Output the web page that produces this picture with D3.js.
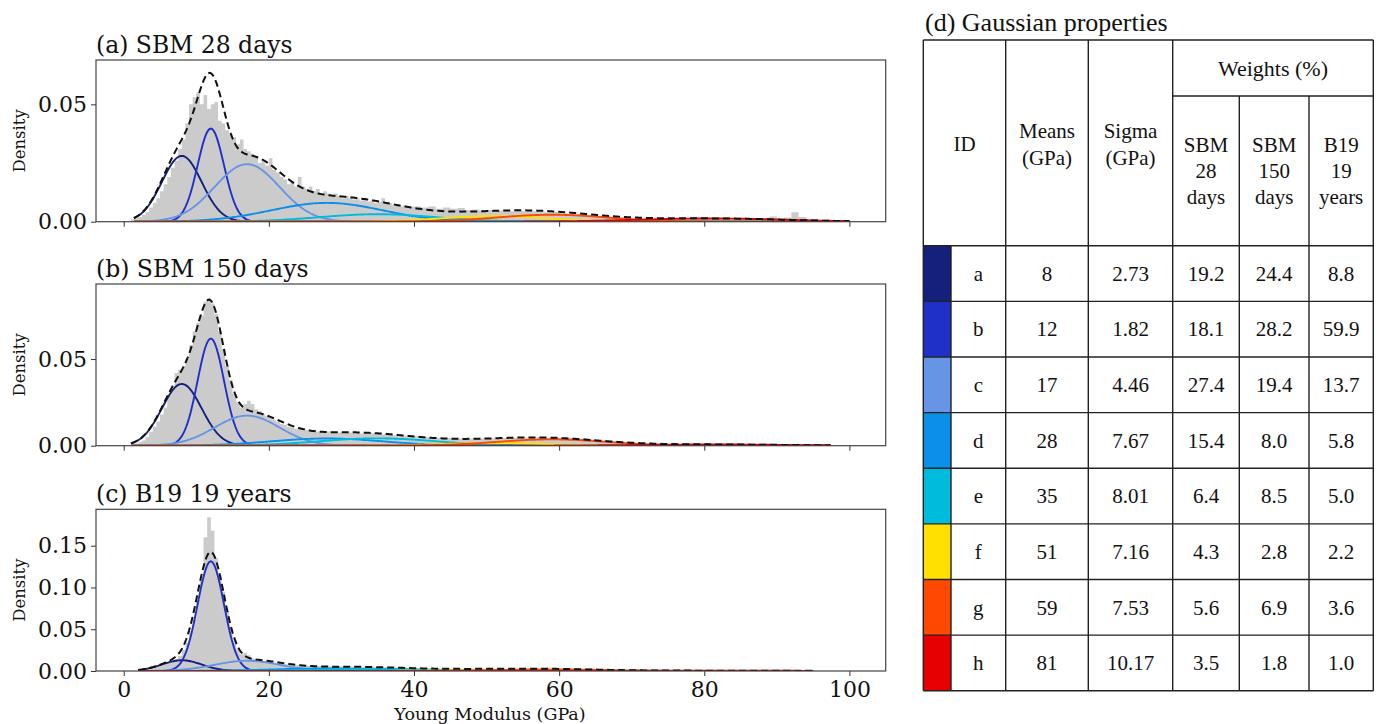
<!DOCTYPE html>
<html>
<head>
<meta charset="utf-8">
<script src="https://cdn.jsdelivr.net/npm/d3@7"></script>
<style>
  body { margin: 0; background: #fff; }
  .tick text { font-family: "DejaVu Serif", serif; font-size: 22px; fill: #111; }
  .tick line, .domain { stroke: #333; }
</style>
</head>
<body>
<svg id="fig" width="1383" height="724"></svg>
<script>
// ---------- data ----------
const ids = ["a", "b", "c", "d", "e", "f", "g", "h"];
const means = [8, 12, 17, 28, 35, 51, 59, 81];
const sigmas = [2.73, 1.82, 4.46, 7.67, 8.01, 7.16, 7.53, 10.17];
const weightsSBM28 = [19.2, 18.1, 27.4, 15.4, 6.4, 4.3, 5.6, 3.5];
const weightsSBM150 = [24.4, 28.2, 19.4, 8.0, 8.5, 2.8, 6.9, 1.8];
const weightsB19 = [8.8, 59.9, 13.7, 5.8, 5.0, 2.2, 3.6, 1.0];
const compColors = ["#151f7c", "#1f30c8", "#6695e6", "#0a8fea", "#00bcdc", "#ffe000", "#ff4800", "#e60000"];

const xTicks = [0, 20, 40, 60, 80, 100];
const yTicksAB = [0, 0.05];
const yTicksC = [0, 0.05, 0.10, 0.15];

// histogram density, 0.5 GPa bins from 1 to 40
const histA_fine = [
  .001, .0015, .002, .003, .004, .006, .008, .010, .013, .016,
  .019, .023, .026, .031, .035, .042, .050, .053, .055, .050,
  .054, .048, .050, .051, .043, .042, .039, .037, .036, .033,
  .035, .031, .030, .029, .028, .025, .026, .024, .027, .022,
  .021, .019, .018, .016, .017, .015, .019, .015, .014, .015,
  .013, .014, .012, .013, .012, .011, .012, .011, .010, .011,
  .010, .0095, .010, .009, .0095, .0085, .009, .008, .0085, .010,
  .0075, .008, .007, .0075, .0065, .007, .006, .0065
];
// 1 GPa bins from 40 to 100
const histA_tail = [
  .0065, .0060, .0065, .0055, .0060, .0055, .0058, .0050, .0052, .0048,
  .0050, .0046, .0048, .0044, .0046, .0044, .0045, .0042, .0040, .0041,
  .0037, .0035, .0032, .0030, .0027, .0025, .0022, .0020, .0018, .0017,
  .0015, .0014, .0013, .0013, .0012, .0012, .0012, .0011, .0012, .0011,
  .0012, .0011, .0012, .0010, .0011, .0010, .0009, .0010, .0009, .0022,
  .0010, .0018, .0040, .0020, .0012, .0008, .0006, .0005, .0004, .0003
];
const histB_fine = [
  .0008, .0012, .002, .003, .005, .008, .011, .014, .018, .022,
  .029, .033, .042, .044, .046, .050, .058, .066, .071, .075,
  .083, .085, .082, .076, .066, .056, .046, .038, .030, .025,
  .022, .024, .026, .024, .021, .020, .018, .017, .016, .015,
  .014, .0125, .012, .011, .0105, .0098, .0095, .0088, .0092, .0085,
  .0088, .0082, .0084, .0080, .0082, .0078, .0080, .0076, .0078, .0074,
  .0076, .0072, .0075, .0071, .0073, .0069, .0072, .0068, .0070, .0066,
  .0064, .0063, .0060, .0061, .0057, .0058, .0054, .0055
];
const histB_tail = [
  .0054, .0050, .0048, .0046, .0044, .0042, .0041, .0040, .0040, .0041,
  .0042, .0043, .0044, .0045, .0046, .0046, .0047, .0050, .0046, .0048,
  .0044, .0046, .0040, .0042, .0036, .0032, .0028, .0024, .0021, .0018,
  .0016, .0014, .0012, .0011, .0010, .0009, .0009, .0008, .0008, .0008,
  .0007, .0007, .0007, .0007, .0006, .0006, .0006, .0006, .0005, .0005,
  .0005, .0004, .0004, .0004, .0003, .0003, .0002, 0, 0, 0
];
const histC_fine = [
  0, 0, .001, .002, .003, .004, .005, .006, .007, .008,
  .010, .011, .014, .018, .025, .034, .048, .062, .085, .110,
  .160, .184, .168, .135, .115, .095, .072, .052, .036, .026,
  .020, .022, .019, .015, .014, .013, .012, .012, .011, .010,
  .0095, .009, .0085, .008, .0075, .007, .0068, .0065, .0062, .006,
  .0058, .0057, .0056, .0055, .0055, .0054, .0053, .0053, .0052, .0060,
  .0051, .0050, .0050, .0049, .0048, .0048, .0047, .0046, .0046, .0045,
  .0044, .0043, .0042, .0041, .0040, .0039, .0037, .0036
];
const histC_tail = [
  .0034, .0032, .0031, .0030, .0029, .0028, .0028, .0027, .0027, .0026,
  .0026, .0026, .0025, .0025, .0025, .0025, .0025, .0024, .0024, .0023,
  .0022, .0021, .0019, .0017, .0015, .0013, .0011, .0010, .0009, .0008,
  .0007, .0006, .0005, .0005, .0005, .0004, .0004, .0004, .0004, .0004,
  .0004, .0004, .0004, .0003, .0003, .0003, .0003, .0003, .0003, .0003,
  .0002, .0002, .0002, .0002, .0002, .0001, 0, 0, 0, 0
];

// ---------- layout ----------
const svg = d3.select("#fig");
const x = d3.scaleLinear().domain([-3.82, 105.0]).range([96, 885.7]);

const panels = [
  { title: "(a) SBM 28 days", fine: histA_fine, tail: histA_tail, w: weightsSBM28,
    top: 60, bottom: 221.7, yMax: 0.0689, ticks: yTicksAB, from: 1.4, to: 100, labels: false },
  { title: "(b) SBM 150 days", fine: histB_fine, tail: histB_tail, w: weightsSBM150,
    top: 284, bottom: 445.7, yMax: 0.0933, ticks: yTicksAB, from: 1.0, to: 97.5, labels: false },
  { title: "(c) B19 19 years", fine: histC_fine, tail: histC_tail, w: weightsB19,
    top: 509.3, bottom: 671, yMax: 0.1936, ticks: yTicksC, from: 2.0, to: 95, labels: true }
];

function gauss(v, mu, s) {
  return Math.exp(-0.5 * ((v - mu) / s) ** 2) / (s * Math.sqrt(2 * Math.PI));
}

panels.forEach((p, pi) => {
  const y = d3.scaleLinear().domain([0, p.yMax]).range([p.bottom, p.top]);
  const g = svg.append("g");

  svg.append("clipPath").attr("id", "clip" + pi)
    .append("rect").attr("x", x.range()[0]).attr("y", p.top)
    .attr("width", x.range()[1] - x.range()[0]).attr("height", p.bottom - p.top);

  const plot = g.append("g").attr("clip-path", "url(#clip" + pi + ")");

  // histogram (stepfilled)
  const bins = p.fine.map((v, i) => ({ x0: 1 + 0.5 * i, v: v }))
    .concat(p.tail.map((v, i) => ({ x0: 40 + i, v: v })));
  bins.push({ x0: 100, v: 0 });
  const area = d3.area()
    .x(d => x(d.x0)).y0(y(0)).y1(d => y(d.v))
    .curve(d3.curveStepAfter);
  plot.append("path").datum(bins).attr("d", area).attr("fill", "#cbcbcb");

  // gaussian components from table
  const grid = d3.range(p.from, p.to + 0.001, 0.2);
  const line = d3.line().x(d => x(d[0])).y(d => y(d[1]));
  ids.forEach((id, k) => {
    const pts = grid.map(v => [v, p.w[k] / 100 * gauss(v, means[k], sigmas[k])]);
    plot.append("path").datum(pts).attr("d", line)
      .attr("fill", "none").attr("stroke", compColors[k]).attr("stroke-width", 1.9);
  });
  const total = grid.map(v => [v, d3.sum(ids, (id, k) => p.w[k] / 100 * gauss(v, means[k], sigmas[k]))]);
  plot.append("path").datum(total).attr("d", line)
    .attr("fill", "none").attr("stroke", "#111").attr("stroke-width", 2)
    .attr("stroke-dasharray", "7,4");

  // axes
  const yAxis = d3.axisLeft(y).tickValues(p.ticks).tickFormat(d3.format(".2f"))
    .tickSize(5).tickPadding(4);
  g.append("g").attr("transform", `translate(${x.range()[0]},0)`).call(yAxis)
    .call(a => a.select(".domain").remove());
  const xAxis = d3.axisBottom(x).tickValues(xTicks).tickSize(5).tickPadding(5)
    .tickFormat(p.labels ? d3.format("d") : "");
  g.append("g").attr("transform", `translate(0,${p.bottom})`).call(xAxis)
    .call(a => a.select(".domain").remove());

  g.append("rect").attr("x", x.range()[0]).attr("y", p.top)
    .attr("width", x.range()[1] - x.range()[0]).attr("height", p.bottom - p.top)
    .attr("fill", "none").attr("stroke", "#444").attr("stroke-width", 1.2);

  g.append("text").attr("x", 96).attr("y", p.top - 7)
    .attr("font-family", "DejaVu Serif").attr("font-size", 23.5).attr("fill", "#111")
    .text(p.title);

  g.append("text")
    .attr("transform", `translate(25,${(p.top + p.bottom) / 2}) rotate(-90)`)
    .attr("text-anchor", "middle")
    .attr("font-family", "DejaVu Serif").attr("font-size", 16.5).attr("fill", "#111")
    .text("Density");
});

svg.append("text").attr("x", 490).attr("y", 720).attr("text-anchor", "middle")
  .attr("font-family", "DejaVu Serif").attr("font-size", 17.5).attr("fill", "#111")
  .text("Young Modulus (GPa)");

// ---------- table (d) ----------
const tbl = svg.append("g").attr("font-family", "Liberation Serif, Times New Roman, serif")
  .attr("fill", "#111");
const colX = [923.3, 951, 1005.7, 1088.3, 1172.7, 1239.3, 1309, 1373.3];
const headTop = 40, subLine = 96, headBottom = 245.7;
const rowY = d3.scaleLinear().domain([0, ids.length]).range([headBottom, 690.7]);
const mid = (a, b) => (a + b) / 2;

tbl.append("text").attr("x", 925).attr("y", 31).attr("font-size", 26)
  .text("(d) Gaussian properties");

// swatches
tbl.selectAll("rect.sw").data(compColors).join("rect").attr("class", "sw")
  .attr("x", colX[0]).attr("y", (d, i) => rowY(i))
  .attr("width", colX[1] - colX[0]).attr("height", rowY(1) - rowY(0))
  .attr("fill", d => d);

const rows = ids.map((id, i) => [id, String(means[i]), sigmas[i].toFixed(2),
  weightsSBM28[i].toFixed(1), weightsSBM150[i].toFixed(1), weightsB19[i].toFixed(1)]);
const cellCx = [mid(colX[1], colX[2]), mid(colX[2], colX[3]), mid(colX[3], colX[4]),
  mid(colX[4], colX[5]), mid(colX[5], colX[6]), mid(colX[6], colX[7])];

rows.forEach((r, i) => {
  r.forEach((t, j) => {
    tbl.append("text").attr("x", cellCx[j]).attr("y", mid(rowY(i), rowY(i + 1)))
      .attr("dy", "0.35em").attr("text-anchor", "middle").attr("font-size", 21).text(t);
  });
});

// header text
function multi(cx, cy, lines, step) {
  const y0 = cy - (lines.length - 1) * step / 2;
  lines.forEach((t, k) => {
    tbl.append("text").attr("x", cx).attr("y", y0 + k * step).attr("dy", "0.35em")
      .attr("text-anchor", "middle").attr("font-size", 21).text(t);
  });
}
multi(mid(colX[0], colX[2]), 144, ["ID"], 26);
multi(cellCx[1], 144, ["Means", "(GPa)"], 27);
multi(cellCx[2], 144, ["Sigma", "(GPa)"], 27);
tbl.append("text").attr("x", mid(colX[4], colX[7])).attr("y", mid(headTop, subLine))
  .attr("dy", "0.35em").attr("text-anchor", "middle").attr("font-size", 22).text("Weights (%)");
multi(cellCx[3], 171, ["SBM", "28", "days"], 26);
multi(cellCx[4], 171, ["SBM", "150", "days"], 26);
multi(cellCx[5], 171, ["B19", "19", "years"], 26);

// grid lines
const ln = (x1, y1, x2, y2) => tbl.append("line")
  .attr("x1", x1).attr("y1", y1).attr("x2", x2).attr("y2", y2)
  .attr("stroke", "#222").attr("stroke-width", 1.4);
const tBottom = rowY(ids.length);
ln(colX[0], headTop, colX[7], headTop);
ln(colX[4], subLine, colX[7], subLine);
d3.range(ids.length + 1).forEach(i => ln(colX[0], rowY(i), colX[7], rowY(i)));
[0, 2, 3, 4, 7].forEach(j => ln(colX[j], headTop, colX[j], tBottom));
ln(colX[1], headBottom, colX[1], tBottom);
[5, 6].forEach(j => ln(colX[j], subLine, colX[j], tBottom));
</script>
</body>
</html>
